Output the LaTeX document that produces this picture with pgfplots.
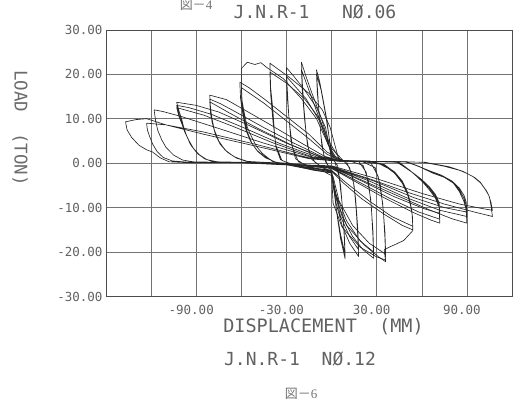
\documentclass[border=0pt]{standalone}
\usepackage{fontspec}
\usepackage{pgfplots}
\pgfplotsset{compat=1.18}
\setmainfont{Liberation Serif}
\newfontfamily\plotfont{DejaVu Sans Mono}
\newfontfamily\cjk{Noto Sans CJK JP}

\pgfplotsset{
  hyst/.style={black!85, line width=0.65pt, no markers, line join=round},
}

\begin{document}
\begin{tikzpicture}
\begin{axis}[
  at={(0,0)}, anchor=south west,
  scale only axis, width=406pt, height=266.7pt,
  xmin=-150, xmax=120, ymin=-30, ymax=30,
  xtick={-120,-90,-60,-30,0,30,60,90},
  xticklabels={,-90.00,,-30.00,,30.00,,90.00},
  ytick={-30,-20,-10,0,10,20,30},
  yticklabels={-30.00,-20.00,-10.00,0.00,10.00,20.00,30.00},
  major tick length=0pt,
  grid=major,
  major grid style={black!55, line width=0.45pt},
  axis line style={black!70, line width=0.6pt},
  tick label style={font=\plotfont\fontsize{12.5}{14}\selectfont, text=black!62},
  xticklabel style={xshift=-5pt, yshift=-5pt},
  clip=true,
]
% cycles of +-10 mm
\addplot[hyst] coordinates {
(0,0) (-1,4) (-3,9.5) (-6,15) (-8,18.5) (-10,21) (-9.5,17.5) (-8.5,12) (-7,6) (-5,1.5) (-2,-0.8) (0,-2) (2,-7) (4,-12.5) (6,-17) (9,-21.5) (8.5,-17) (7.5,-11) (6,-5) (4,-0.5) (1,0.8)
(-1,4.5) (-4,11) (-7,16.5) (-10,20) (-9.5,16) (-8,10) (-6.5,4) (-4,0.3) (-1,-1.2) (1,-4) (3,-10) (6,-16) (9,-20.5) (8.5,-16) (7,-9) (5,-3) (2,0.5) (0,0.9)
};
% cycles of -20 / +18 mm
\addplot[hyst] coordinates {
(0,0.9) (-1,2.9) (-3,5.8) (-7,10.3) (-13,15.7) (-17,19.5) (-20,22.7) (-19.5,18.5) (-18.5,13) (-17,7) (-15,2.5) (-11,0.2) (-5,-1.2) (0,-2) (1,-5) (3,-9) (7,-14) (12,-18) (18,-21) (17.5,-17) (16.5,-11) (15,-5) (12,-1) (8,0.5) (2,0.8)
(-2,4) (-7,9) (-13,14.5) (-20,21) (-19.5,16.5) (-18,10) (-16,4) (-13,0.8) (-6,-1) (0,-1.8) (2,-6) (6,-12) (12,-16.5) (18,-19.5) (17.5,-15) (16,-8) (14,-3) (10,0.3) (3,0.7)
};
% cycles of -30 / +28 mm
\addplot[hyst] coordinates {
(3,0.7) (-1,3) (-4,8) (-10,12.5) (-18,16.5) (-25,19.5) (-30,21.5) (-29.5,17) (-28.5,11) (-27,5) (-24,1) (-17,-0.6) (-8,-1.5) (0,-2.1) (2,-6) (7,-12) (14,-16.5) (21,-19.5) (28,-21.4) (27.5,-16.5) (26.5,-10) (24.5,-4) (21,-0.5) (12,0.5) (4,0.7)
(-2,4) (-8,9.5) (-17,14.5) (-30,19.5) (-29.5,15) (-28,9) (-26,3.5) (-22,0.3) (-10,-1.3) (0,-2) (3,-7) (10,-13) (19,-17.5) (28,-20) (27.5,-15) (26,-8) (23,-2) (18,0.4) (5,0.6)
};
% cycles of -41 / +36 mm
\addplot[hyst] coordinates {
(5,0.6) (-1,8.1) (-6,11.9) (-15,15.7) (-28,19.3) (-35,21) (-41,22.5) (-40.5,17) (-39,11.9) (-38,7) (-37,3.6) (-34,0.8) (-25,-0.6) (-12,-1.6) (0,-2.2) (1,-9) (7,-14.4) (19,-18.9) (30,-21.1) (36,-21.8) (35.5,-17) (34.5,-11) (32.5,-5) (29,-1) (20,0.4) (6,0.6)
(-2,5) (-8,10) (-18,14.5) (-30,18) (-41,20.5) (-40.5,15.5) (-39,9.5) (-37,4) (-33,0.6) (-20,-1) (-5,-1.9) (1,-3) (5,-8.5) (14,-14) (25,-18) (36,-20.5) (35.5,-15.5) (34,-9) (31,-3) (26,0.2) (8,0.5)
};
% cycles of -60 / +54 mm
\addplot[hyst] coordinates {
(8,0.5) (-2,4) (-10,10) (-20,14.5) (-32,19) (-43,21.5) (-47,22.6) (-51,22.2) (-56,22.7) (-60,21.3) (-60,17.5) (-59.5,14) (-58,11.2) (-56,8) (-53,5.8) (-50,3.8) (-46,2.2) (-39,0.3) (-25,-0.7) (-10,-1.6) (0,-2.2) (3,-8) (10,-14) (22,-18.5) (31,-21) (36,-22.2) (35,-19.5) (39,-18.8) (43,-18.2) (48,-17.4) (54,-15.2) (53.8,-12) (52.5,-9) (50.5,-6.5) (47,-4) (42,-2) (35,-0.3) (25,0.5) (8,0.5)
(-3,2.5) (-15,6.5) (-30,10.5) (-45,14.5) (-55,17) (-61,18.2) (-60.5,14.5) (-59,11) (-57,7.5) (-54,5) (-50,3) (-45,1.6) (-38,0.3) (-20,-0.9) (0,-1.8) (8,-4.5) (20,-8) (35,-11.5) (47,-14) (54,-15) (53.8,-12) (52.5,-9.5) (50.5,-7) (47,-4.5) (42,-2.3) (35,-0.5) (25,0.5) (7,0.5)
(-3,2) (-15,5.5) (-30,9.5) (-45,13.5) (-60,17) (-59.5,13.5) (-58,10) (-56,7) (-53,4.5) (-49,2.6) (-44,1.2) (-37,0.2) (-18,-0.8) (0,-1.6) (10,-4.5) (25,-8.5) (40,-12) (54,-14.2) (53.5,-11) (52,-8.5) (49.5,-6) (46,-3.8) (40,-1.6) (32,-0.2) (20,0.4) (6,0.5)
};
% cycles of -81 / +72 mm
\addplot[hyst] coordinates {
(6,0.5) (-5,1.6) (-20,4.5) (-40,8.5) (-58,12) (-70,14.3) (-81,15.3) (-80.5,12.5) (-79.5,10) (-78,7.5) (-75,5) (-71,3) (-65,1.5) (-57,0.4) (-40,0) (-20,-0.6) (0,-1.2) (15,-4) (35,-7.8) (55,-11.2) (66,-12.8) (72,-13.5) (71.5,-9.9) (69,-7.8) (65,-6) (61,-4.4) (57,-3.1) (52,-1.6) (45,0.2) (25,0.4) (6,0.5)
(-6,1.4) (-25,4.5) (-45,8) (-62,11.2) (-74,13.4) (-81,14.4) (-80.5,11.8) (-79.5,9.3) (-77.5,6.8) (-74.5,4.6) (-70,2.7) (-64,1.3) (-56,0.4) (-35,0) (-15,-0.6) (0,-1) (18,-4.2) (38,-7.8) (58,-11) (72,-12.6) (71.5,-9.5) (69,-7.4) (65,-5.6) (61,-4.1) (57,-2.9) (51,-1.4) (44,0.2) (22,0.4) (5,0.5)
(-7,1.3) (-28,4.3) (-50,8) (-68,11.3) (-81,13.8) (-80.5,11.2) (-79,8.6) (-77,6.2) (-74,4.2) (-69,2.4) (-63,1.1) (-55,0.3) (-30,0) (-10,-0.7) (2,-1.1) (20,-4) (42,-7.6) (62,-10.3) (72,-11.3) (71.5,-8.8) (69,-7) (65,-5.3) (60,-3.7) (55,-2.4) (49,-1) (43,0.3) (20,0.4) (5,0.5)
};
% cycles of -103 / +90 mm
\addplot[hyst] coordinates {
(5,0.5) (-8,1.5) (-30,4.5) (-55,8.5) (-75,11.5) (-90,13) (-103,13.7) (-101.5,11.8) (-100,10.3) (-98.5,8.3) (-97,6.7) (-94,4.3) (-90,2.5) (-85,1.1) (-79,0.3) (-60,0.1) (-30,-0.4) (0,-1) (20,-3.8) (45,-7.5) (65,-10.5) (80,-12.5) (90,-13.5) (89.5,-10.5) (88,-8.6) (85,-6.4) (81,-4.5) (75,-3.2) (67,-2.2) (59,-0.9) (50,0.3) (25,0.4) (5,0.5)
(-10,1.4) (-35,4.5) (-60,8.2) (-80,11) (-95,12.5) (-103,13) (-101.5,11) (-100,9.6) (-98,7.5) (-96,5.8) (-93,3.8) (-89,2.1) (-84,0.9) (-77,0.3) (-50,0.1) (-25,-0.5) (0,-0.9) (25,-4) (50,-7.8) (72,-10.6) (90,-12) (89.5,-9.5) (88,-7.9) (85,-6) (81,-4.3) (74,-2.9) (66,-1.9) (58,-0.7) (50,0.3) (22,0.4) (5,0.5)
(-12,1.3) (-40,4.7) (-65,8.2) (-85,10.8) (-103,12.5) (-101.5,10.5) (-99.5,8.8) (-97.5,6.9) (-95,5.2) (-92,3.4) (-88,1.9) (-83,0.8) (-76,0.3) (-45,0.1) (-20,-0.5) (0,-0.8) (28,-4) (55,-7.8) (75,-10) (90,-11) (89.5,-8.7) (88,-7.2) (85,-5.6) (80,-4) (73,-2.7) (65,-1.7) (57,-0.6) (49,0.3) (20,0.4) (5,0.4)
};
% cycles of -118 / -123 / +107 mm and the last excursion to -137 mm
\addplot[hyst] coordinates {
(5,0.4) (-12,1.2) (-45,4.5) (-75,7.8) (-100,10.5) (-112,11.6) (-118,12) (-117,9.5) (-115.5,7.3) (-113,5.3) (-110,3.5) (-105,1.8) (-99,0.7) (-92,0.3) (-60,0.1) (-30,-0.3) (0,-0.8) (25,-3.5) (50,-6.5) (75,-9.2) (95,-11) (107,-12) (106,-9.5) (105,-7.6) (103,-6.2) (101,-5.3) (99,-4.3) (95,-3.2) (90,-2.3) (85,-1.6) (75,-0.7) (61,0.2) (30,0.4) (5,0.4)
(-15,1.2) (-50,4.2) (-85,7) (-110,8.6) (-123,9) (-122.5,7.5) (-121,6) (-119,4.3) (-116,2.6) (-112,1.3) (-106,0.5) (-95,0.2) (-60,0.1) (-25,-0.3) (0,-0.6) (30,-3.5) (60,-6.8) (85,-9.2) (100,-10.2) (107,-10.6) (106,-8.8) (104.5,-7.2) (102,-5.8) (99,-4.4) (94,-3) (87,-1.8) (78,-0.8) (62,0.2) (30,0.4) (5,0.4)
(-15,1) (-50,3.8) (-85,6.5) (-110,8.6) (-123,10) (-130,9.8) (-137,9.3) (-136,7.5) (-133,5.8) (-128,4) (-123,3) (-119,2.5) (-114,1.2) (-108,0.3) (-95,0.1) (-80,0.1)
};
\end{axis}

\node[anchor=base, font=\plotfont\fontsize{18}{20}\selectfont, text=black!62]
  at (209pt,278pt) {J.N.R-1\phantom{xxx}NØ.06};
\node[anchor=base, font=\fontsize{13}{15}\selectfont, text=black!55]
  at (90pt,286.5pt) {{\cjk 図－}4};
\node[anchor=center, rotate=-90, font=\plotfont\fontsize{17.5}{20}\selectfont, text=black!58]
  at (-86pt,168.5pt) {LOAD\phantom{xx}(TON)};
\node[anchor=base, font=\plotfont\fontsize{18.5}{20}\selectfont, text=black!62]
  at (217.5pt,-36.5pt) {DISPLACEMENT\phantom{xx}(MM)};
\node[anchor=base, font=\plotfont\fontsize{18}{20}\selectfont, text=black!62]
  at (194pt,-69.5pt) {J.N.R-1\phantom{xx}NØ.12};
\node[anchor=base, font=\fontsize{13}{15}\selectfont, text=black!55]
  at (195pt,-102.5pt) {{\cjk 図－}6};

\pgfresetboundingbox
\useasboundingbox (-106pt,-109.5pt) rectangle (411pt,296.5pt);
\end{tikzpicture}
\end{document}
